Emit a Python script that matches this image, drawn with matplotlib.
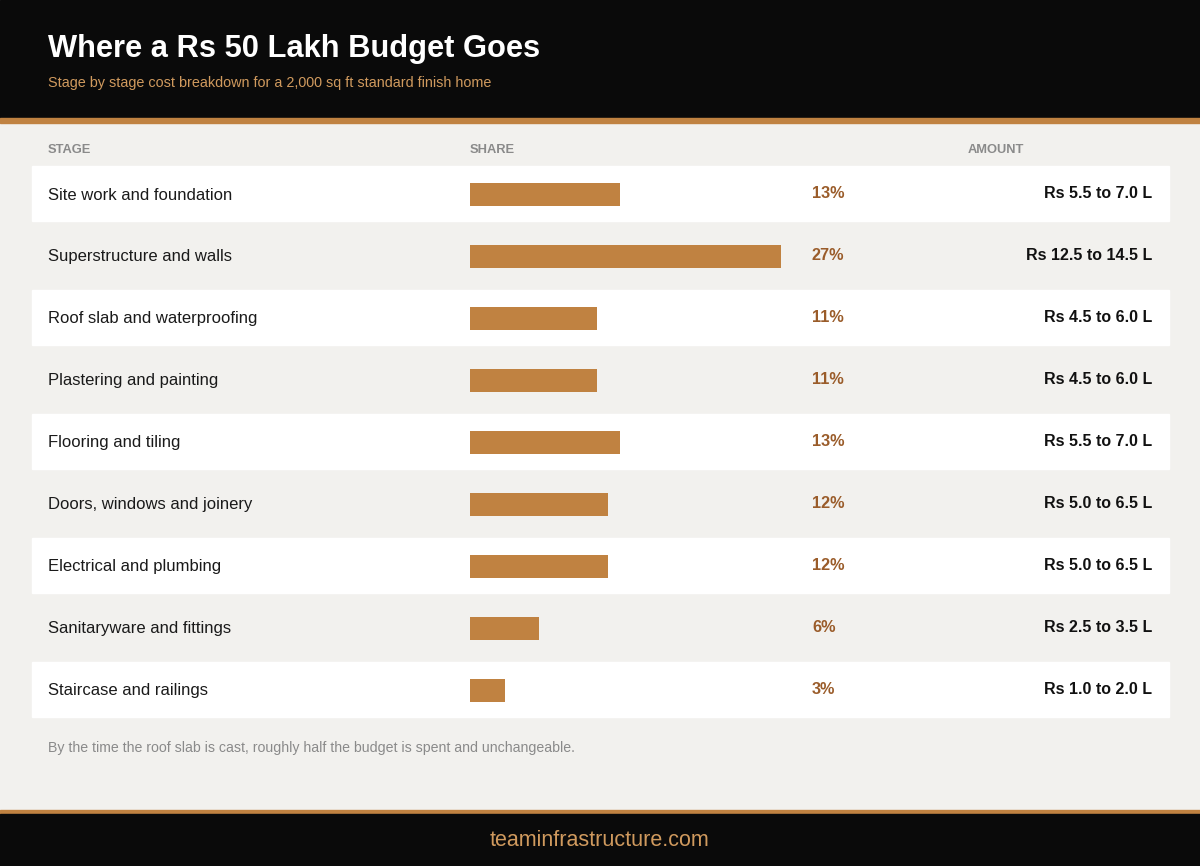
import matplotlib
matplotlib.use("Agg")
import matplotlib.pyplot as plt
from matplotlib.patches import Rectangle

stages = ["Site work and foundation", "Superstructure and walls", "Roof slab and waterproofing",
          "Plastering and painting", "Flooring and tiling", "Doors, windows and joinery",
          "Electrical and plumbing", "Sanitaryware and fittings", "Staircase and railings"]
shares = [13, 27, 11, 11, 13, 12, 12, 6, 3]
amounts = ["Rs 5.5 to 7.0 L", "Rs 12.5 to 14.5 L", "Rs 4.5 to 6.0 L", "Rs 4.5 to 6.0 L",
           "Rs 5.5 to 7.0 L", "Rs 5.0 to 6.5 L", "Rs 5.0 to 6.5 L", "Rs 2.5 to 3.5 L",
           "Rs 1.0 to 2.0 L"]

ORANGE = "#c08241"
DARK_OR = "#9a5c2a"
BG = "#f2f1ee"
BLACK = "#0a0a0a"
plt.rcParams['font.family'] = ['Liberation Sans', 'DejaVu Sans']

fig = plt.figure(figsize=(12, 8.66), dpi=100, facecolor=BG)
ax = fig.add_axes([0, 0, 1, 1])
ax.set_xlim(0, 1200); ax.set_ylim(866, 0); ax.axis('off')
ax.set_facecolor(BG)

ax.add_patch(Rectangle((0, 0), 1200, 118, color=BLACK))
ax.add_patch(Rectangle((0, 118), 1200, 5, color=ORANGE))
ax.add_patch(Rectangle((0, 810), 1200, 5, color=ORANGE))
ax.add_patch(Rectangle((0, 814), 1200, 52, color=BLACK))

ax.text(48, 49, "Where a Rs 50 Lakh Budget Goes", color="white", fontsize=22.2, fontweight="bold", va="center")
ax.text(48, 83, "Stage by stage cost breakdown for a 2,000 sq ft standard finish home", color="#d09a5e", fontsize=10.4, va="center")

for x, t in [(48, "STAGE"), (470, "SHARE"), (968, "AMOUNT")]:
    ax.text(x, 150, t, color="#8a8a8a", fontsize=9.3, fontweight="bold", va="center")

scale = 311 / 27
ys = [194.5 + 62 * i for i in range(len(stages))]
for i, (s, p, a, y) in enumerate(zip(stages, shares, amounts, ys)):
    if i % 2 == 0:
        ax.add_patch(Rectangle((32, y - 28.5), 1137, 55, color="white", zorder=0))
    ax.text(48, y + 0.5, s, fontsize=12, color="#1a1a1a", va="center")
    ax.text(812, y - 0.5, f"{p}%", fontsize=11.7, color=DARK_OR, fontweight="bold", va="center")
    ax.text(1152, y - 0.5, a, fontsize=11.5, color="#111111", fontweight="bold", va="center", ha="right")
ax.barh(ys, [p * scale for p in shares], left=470, height=23, color=ORANGE, zorder=2)

ax.text(48, 748, "By the time the roof slab is cast, roughly half the budget is spent and unchangeable.",
        fontsize=10.2, color="#8a8a8a", va="center")
ax.text(600, 840, "teaminfrastructure.com", fontsize=15.5, color="#d09a5e", ha="center", va="center")

fig.savefig("out.png", dpi=100, facecolor=BG)
